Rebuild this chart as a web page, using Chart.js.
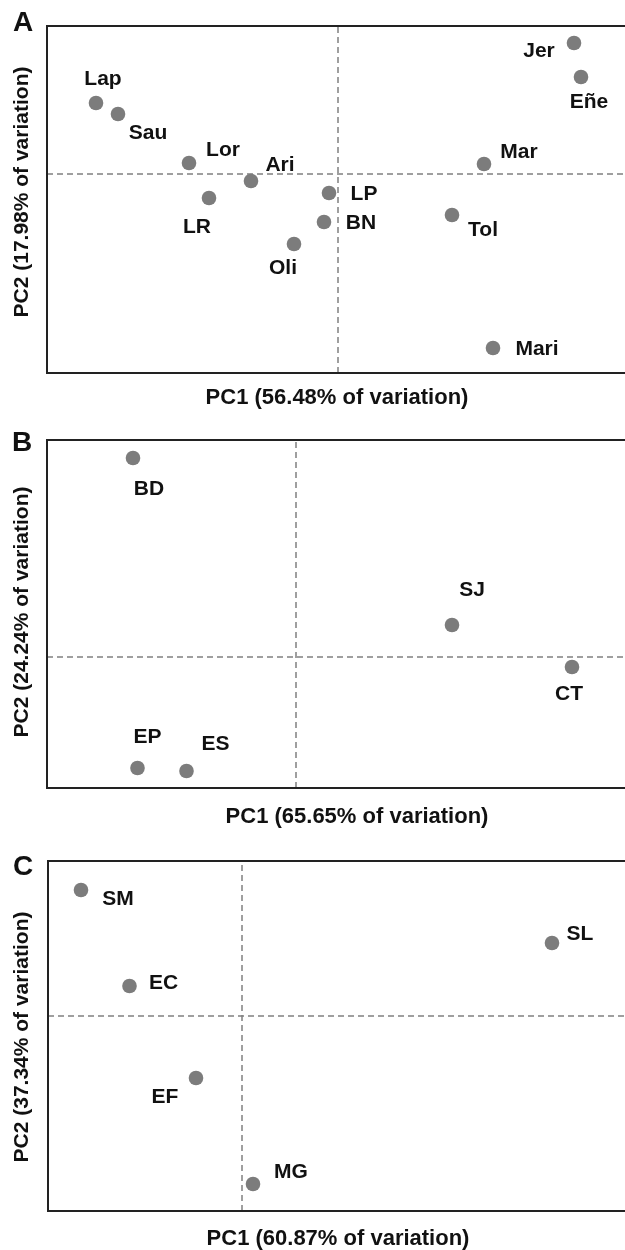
<!DOCTYPE html>
<html>
<head>
<meta charset="utf-8">
<script src="https://cdn.jsdelivr.net/npm/chart.js@4/dist/chart.umd.min.js"></script>
<style>
  html, body { margin:0; padding:0; background:#fff; width:625px; height:1250px; overflow:hidden; }
  .wrap { position:absolute; left:0; }
  canvas { display:block; }
</style>
</head>
<body>
<div class="wrap" style="top:0px"><canvas id="cA" width="700" height="415"></canvas></div>
<div class="wrap" style="top:415px"><canvas id="cB" width="700" height="415"></canvas></div>
<div class="wrap" style="top:830px"><canvas id="cC" width="700" height="420"></canvas></div>
<script>
// ---------- DATA ----------
const A_sites = ['Lap','Sau','Lor','Ari','LR','Oli','LP','BN','Tol','Mar','Jer','Eñe','Mari'];
const A_pc1   = [-2.42,-2.20,-1.49,-0.87,-1.29,-0.44,-0.09,-0.14,1.14,1.46,2.36,2.43,1.55];
const A_pc2   = [0.71,0.60,0.11,-0.07,-0.24,-0.70,-0.19,-0.48,-0.41,0.10,1.31,0.97,-1.74];
const A_xTitle = 'PC1 (56.48% of variation)';
const A_yTitle = 'PC2 (17.98% of variation)';

const B_sites = ['BD','SJ','CT','EP','ES'];
const B_pc1   = [-1.63,1.56,2.76,-1.585,-1.095];
const B_pc2   = [1.99,0.32,-0.10,-1.11,-1.14];
const B_xTitle = 'PC1 (65.65% of variation)';
const B_yTitle = 'PC2 (24.24% of variation)';

const C_sites = ['SM','SL','EC','EF','MG'];
const C_pc1   = [-1.61,3.10,-1.125,-0.46,0.11];
const C_pc2   = [1.26,0.73,0.30,-0.62,-1.68];
const C_xTitle = 'PC1 (60.87% of variation)';
const C_yTitle = 'PC2 (37.34% of variation)';

// ---------- LAYOUT (label offsets in px, axis ranges, areas) ----------
const A_labelOffsets = [[7,-24],[30,19],[34,-13],[29,-16],[-12,29],[-11,24],[35,1],[37,1],[31,15],[35,-12],[-35,8],[8,25],[44,1]];
const B_labelOffsets = [[16,31],[20,-35],[-3,27],[10,-31],[29,-27]];
const C_labelOffsets = [[37,9],[28,-9],[34,-3],[-31,19],[38,-12]];

const panels = [
  { id:'cA', letter:'A', sites:A_sites, pc1:A_pc1, pc2:A_pc2, xTitle:A_xTitle, yTitle:A_yTitle, offs:A_labelOffsets,
    xr:[-2.91,2.89], yr:[-1.99,1.48], area:{l:47,t:26,r:627,b:373}, xT:398, yT:[22,192], let:[23,23] },
  { id:'cB', letter:'B', sites:B_sites, pc1:B_pc1, pc2:B_pc2, xTitle:B_xTitle, yTitle:B_yTitle, offs:B_labelOffsets,
    xr:[-2.49,3.71], yr:[-1.31,2.17], area:{l:47,t:25,r:667,b:373}, xT:402, yT:[22,197], let:[22,28] },
  { id:'cC', letter:'C', sites:C_sites, pc1:C_pc1, pc2:C_pc2, xTitle:C_xTitle, yTitle:C_yTitle, offs:C_labelOffsets,
    xr:[-1.94,3.86], yr:[-1.95,1.55], area:{l:48,t:31,r:628,b:381}, xT:409, yT:[22,207], let:[23,37] }
];

const FONT = '"Liberation Sans", Arial, Helvetica, sans-serif';
const TEXT = '#111111';

const decor = {
  id:'decor',
  afterDraw(chart, args, o) {
    const p = o.panel;
    const ctx = chart.ctx;
    const a = chart.chartArea;
    ctx.save();
    // frame
    ctx.strokeStyle = '#222222';
    ctx.lineWidth = 2;
    ctx.beginPath();
    ctx.moveTo(a.right + 5, a.top);
    ctx.lineTo(a.left, a.top);
    ctx.lineTo(a.left, a.bottom);
    ctx.lineTo(a.right + 5, a.bottom);
    ctx.stroke();
    // point labels
    const xs = chart.scales.x, ys = chart.scales.y;
    ctx.fillStyle = TEXT;
    ctx.font = 'bold 21px ' + FONT;
    ctx.textAlign = 'center';
    ctx.textBaseline = 'middle';
    p.sites.forEach((s, i) => {
      const px = xs.getPixelForValue(p.pc1[i]);
      const py = ys.getPixelForValue(p.pc2[i]);
      ctx.fillText(s, px + p.offs[i][0], py + p.offs[i][1]);
    });
    // axis titles
    ctx.font = 'bold 22px ' + FONT;
    ctx.fillText(p.xTitle, (a.left + a.right) / 2, p.xT);
    ctx.font = 'bold 21px ' + FONT;
    ctx.save();
    ctx.translate(p.yT[0], p.yT[1]);
    ctx.rotate(-Math.PI / 2);
    ctx.fillText(p.yTitle, 0, 0);
    ctx.restore();
    // panel letter
    ctx.font = 'bold 28px ' + FONT;
    ctx.fillText(p.letter, p.let[0], p.let[1]);
    ctx.restore();
  }
};

panels.forEach(p => {
  const cv = document.getElementById(p.id);
  const W = cv.width, H = cv.height;
  new Chart(cv, {
    type: 'scatter',
    data: {
      datasets: [
        { data: p.pc1.map((v, i) => ({ x: v, y: p.pc2[i] })),
          pointRadius: 7.3, pointBackgroundColor: '#7c7c7c', pointBorderWidth: 0,
          pointBorderColor: '#7c7c7c', order: 1 },
        { type: 'line', data: [{ x: p.xr[0], y: 0 }, { x: p.xr[1], y: 0 }],
          borderColor: '#808080', borderWidth: 1.5, borderDash: [6, 4], pointRadius: 0, order: 2, clip: false },
        { type: 'line', data: [{ x: 0, y: p.yr[0] }, { x: 0, y: p.yr[1] }],
          borderColor: '#808080', borderWidth: 1.5, borderDash: [6, 4], pointRadius: 0, order: 2, clip: false }
      ]
    },
    options: {
      responsive: false, animation: false, devicePixelRatio: 1,
      layout: { padding: { left: p.area.l, top: p.area.t, right: W - p.area.r, bottom: H - p.area.b } },
      scales: {
        x: { type: 'linear', min: p.xr[0], max: p.xr[1], display: false },
        y: { type: 'linear', min: p.yr[0], max: p.yr[1], display: false }
      },
      plugins: { legend: { display: false }, tooltip: { enabled: false }, decor: { panel: p } },
      events: []
    },
    plugins: [decor]
  });
});
</script>
</body>
</html>
